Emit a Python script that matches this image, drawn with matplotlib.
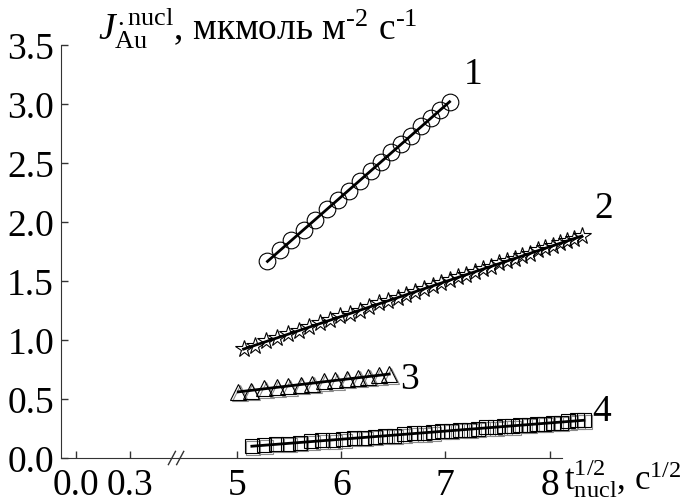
import numpy as np
import matplotlib
matplotlib.use("Agg")
from matplotlib import pyplot as plt
from matplotlib.transforms import offset_copy

# t^(1/2) (s^1/2) and nucleation flux J (umol m^-2 s^-1) for the four runs
x1 = [5.29, 5.41, 5.52, 5.64, 5.75, 5.86, 5.97, 6.07, 6.18, 6.28, 6.38, 6.48,
      6.57, 6.67, 6.77, 6.86, 6.95, 7.04]
y1 = [1.67, 1.76, 1.85, 1.93, 2.02, 2.11, 2.19, 2.26, 2.35, 2.43, 2.51, 2.59,
      2.66, 2.73, 2.81, 2.88, 2.95, 3.02]

x2 = [5.06, 5.17, 5.28, 5.38, 5.49, 5.59, 5.69, 5.79, 5.89, 5.99, 6.08, 6.18,
      6.27, 6.36, 6.45, 6.54, 6.62, 6.71, 6.79, 6.88, 6.96, 7.04, 7.12, 7.20,
      7.28, 7.36, 7.44, 7.51, 7.59, 7.67, 7.74, 7.81, 7.89, 7.96, 8.03, 8.10,
      8.17, 8.24, 8.31]
y2 = [0.92, 0.95, 0.99, 1.02, 1.05, 1.08, 1.11, 1.14, 1.17, 1.20, 1.22, 1.25,
      1.28, 1.31, 1.33, 1.36, 1.38, 1.41, 1.43, 1.46, 1.48, 1.51, 1.53, 1.55,
      1.58, 1.60, 1.62, 1.65, 1.67, 1.69, 1.71, 1.73, 1.76, 1.78, 1.80, 1.82,
      1.84, 1.86, 1.88]

x3 = [5.01, 5.13, 5.26, 5.38, 5.49, 5.61, 5.72, 5.83, 5.94, 6.05, 6.16, 6.26,
      6.36, 6.46]
y3 = [0.56, 0.57, 0.59, 0.60, 0.61, 0.62, 0.63, 0.65, 0.66, 0.67, 0.68, 0.69,
      0.70, 0.71]

x4 = [5.14, 5.26, 5.37, 5.49, 5.60, 5.71, 5.81, 5.92, 6.02, 6.12, 6.22, 6.32,
      6.42, 6.51, 6.60, 6.70, 6.79, 6.88, 6.97, 7.05, 7.14, 7.23, 7.31, 7.39,
      7.48, 7.56, 7.64, 7.72, 7.80, 7.88, 7.95, 8.03, 8.11, 8.18, 8.26, 8.33]
y4 = [0.10, 0.11, 0.12, 0.12, 0.13, 0.14, 0.15, 0.15, 0.16, 0.17, 0.17, 0.18,
      0.19, 0.19, 0.20, 0.21, 0.21, 0.22, 0.23, 0.23, 0.24, 0.24, 0.25, 0.26,
      0.26, 0.27, 0.27, 0.28, 0.28, 0.29, 0.29, 0.30, 0.30, 0.31, 0.32, 0.32]

curve_names = ["1", "2", "3", "4"]
name_pos = [(7.27, 3.26), (8.52, 2.12), (6.65, 0.67), (8.50, 0.40)]

y_ticks = [0.0, 0.5, 1.0, 1.5, 2.0, 2.5, 3.0, 3.5]
x_ticks_left = [0.0, 0.3]
x_ticks_right = [5, 6, 7, 8]

plt.rcParams['font.family'] = ['Liberation Serif', 'DejaVu Serif']
plt.rcParams['mathtext.fontset'] = 'custom'
plt.rcParams['mathtext.rm'] = 'Liberation Serif'
plt.rcParams['mathtext.it'] = 'Liberation Serif:italic'
plt.rcParams['font.size'] = 27

axis_color = '#333333'
fs = 27

fig = plt.figure(figsize=(6.82, 5.02), dpi=100)
ax_l = fig.add_axes([61 / 682, 43 / 502, 118 / 682, 413 / 502])
ax_r = fig.add_axes([179 / 682, 43 / 502, 383 / 682, 413 / 502], sharey=ax_l)

for ax in (ax_l, ax_r):
    ax.spines['top'].set_visible(False)
    ax.spines['right'].set_visible(False)
    ax.spines['bottom'].set_color(axis_color)
    ax.spines['left'].set_color(axis_color)
    ax.tick_params(direction='in', length=5, width=1, color=axis_color,
                   labelsize=fs, pad=5)
    ax.tick_params(axis='x', pad=7)
    ax.set_facecolor('none')
ax_r.spines['left'].set_visible(False)
ax_r.tick_params(axis='y', left=False, labelleft=False)

ax_l.set_ylim(0, 3.5)
ax_l.set_yticks(y_ticks)
ax_l.set_yticklabels([f"{v:.1f}" for v in y_ticks])
ax_l.set_xlim(-0.083, 0.572)
ax_l.set_xticks(x_ticks_left)
ax_l.set_xticklabels([f"{v:.1f}" for v in x_ticks_left])
ax_r.set_xlim(4.44, 8.12)
ax_r.set_xticks(x_ticks_right)

# marker, size, grey drop shadow under the symbols
series = [(x1, y1, 'o', 12, False), (x2, y2, '*', 13, False),
          (x3, y3, '^', 11, True), (x4, y4, 's', 10, True)]
shadow = offset_copy(ax_r.transData, fig=fig, x=1.5, y=-1.5, units='dots')
for (xs, ys, mk, ms, shade), name, pos in zip(series, curve_names, name_pos):
    if shade:
        ax_r.plot(xs, ys, linestyle='none', marker=mk, markersize=ms,
                  markerfacecolor='none', markeredgecolor='#8a8a8a',
                  markeredgewidth=0.8, transform=shadow, clip_on=False, zorder=2)
    ax_r.plot(xs, ys, linestyle='none', marker=mk, markersize=ms,
              markerfacecolor='none', markeredgecolor='black',
              markeredgewidth=0.8, clip_on=False, zorder=3)
    k, b = np.polyfit(xs, ys, 1)
    xf = np.array([xs[0], xs[-1]])
    ax_r.plot(xf, k * xf + b, color='black', linewidth=2, clip_on=False, zorder=4)
    ax_r.text(pos[0], pos[1], name, ha='center', va='center', fontsize=fs)

# axis break marks "//"
for x0 in (0.91, 0.98):
    ax_l.plot([x0, x0 + 0.06], [-0.016, 0.016], transform=ax_l.transAxes,
              color=axis_color, linewidth=1, clip_on=False)

fig.text(98 / 682, 1 - 40 / 502,
         "$\\mathit{J}^{\\mathrm{.nucl}}_{\\mathrm{Au}}$, мкмоль м$^{\\mathrm{\u2010 2}}$ с$^{\\mathrm{\u2010 1}}$",
         ha='left', va='baseline', fontsize=fs)
fig.text(564 / 682, 1 - 490 / 502,
         r"$\mathrm{t}^{\mathrm{1/2}}_{\mathrm{nucl}}$, с$^{\mathrm{1/2}}$",
         ha='left', va='baseline', fontsize=25)

fig.savefig("out.png", dpi=100)
